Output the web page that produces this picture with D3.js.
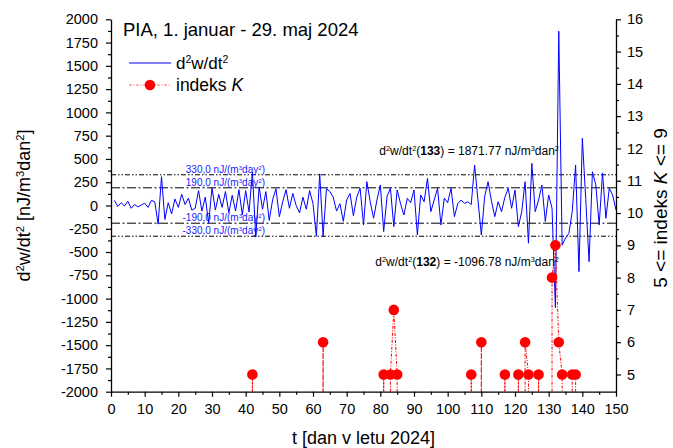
<!DOCTYPE html>
<html>
<head>
<meta charset="utf-8">
<script src="https://cdn.jsdelivr.net/npm/d3@7"></script>
<style>
  body { margin: 0; background: #fff; }
  svg { display: block; font-family: Arial, "Liberation Sans", sans-serif; }
</style>
</head>
<body>
<svg id="chart" width="673" height="448"></svg>
<script>
// d2w/dt2 po dnevih (t = 1 .. 150), nJ/(m^3 dan^2)
const dni = d3.range(1, 151);
const d2w = [
  55, -10, 30, -5, 45, -30, 10, -15, 5, 25,
  -20, 55, 40, -200, 310, -150, 30, -90, 70, -20,
  120, 10, 80, -50, -30, 160, -60, 90, -190, 190,
  -50, 120, -20, 150, -80, 110, -60, 170, -100, 160,
  -70, 360, -340, 200, -40, 150, -160, 60, 180, -120,
  40, 170, -30, 130, 0, -80, 90, -40, 160, 20,
  -330, 340, -330, 180, 150, 90, -60, 20, -170, 60,
  130, -110, 90, 185, -210, 256, 40, -137, 60, 220,
  -280, 100, 185, -227, 166, 20, -102, 77, 30, 166,
  -317, 113, 40, 292, -66, 60, 185, -209, 80, 30,
  185, -120, 20, 59, 24, 40, 10, 435, 60, -317,
  100, 256, 50, -120, 40, -66, 90, 185, -30, 166,
  -227, -66, 256, -405, 453, -66, 60, 220, -172, 113,
  -30, -1096.78, 1871.77, -425, -350, -300, -66, 435, -710, 722,
  77, -603, 363, 220, -209, 350, -137, 185, 113, -48
];

// dnevi z indeksom K >= 5
const kDni = [42, 63, 81, 83, 84, 85, 107, 110, 117, 121, 123, 124, 127, 131, 132, 133, 134, 137, 138];
const kVrednosti = [5, 6, 5, 5, 7, 5, 5, 6, 5, 5, 6, 5, 5, 8, 9, 6, 5, 5, 5];

// mejne vrednosti
const meje = [330, 190, -190, -330];
const mejeOznake = ["330,0", "190,0", "-190,0", "-330,0"];

const xTicks = d3.range(0, 151, 10);
const yTicks = d3.range(-2000, 2001, 250);
const kTicks = d3.range(5, 17, 1);

const svg = d3.select("#chart");
const L = 111, R = 616, T = 19.3, B = 391.7;

const x = d3.scaleLinear().domain([0, 150]).range([L, R]);
const y = d3.scaleLinear().domain([-2000, 2000]).range([B, T]);
const yK = d3.scaleLinear().domain([4.467, 16]).range([B, T]);

// superskript pomocnik
function besedilo(sel, deli) {
  deli.forEach(d => {
    const t = sel.append("tspan").text(d.t);
    if (d.sup) t.attr("baseline-shift", "super").style("font-size", "0.62em");
    if (d.b) t.style("font-weight", "bold");
    if (d.i) t.style("font-style", "italic");
  });
  return sel;
}

// mejne crte
const vzorci = { 330: "5,2,1.5,2,1.5,2", 190: "9,2.5,2,2.5" };
meje.forEach((m, i) => {
  svg.append("line")
    .attr("x1", L).attr("x2", R)
    .attr("y1", y(m)).attr("y2", y(m))
    .attr("stroke", "#000").attr("stroke-width", 1)
    .attr("stroke-dasharray", vzorci[Math.abs(m)]);
  besedilo(svg.append("text")
    .attr("x", 265).attr("y", y(m) - 2)
    .attr("text-anchor", "end")
    .style("font-size", "10px").style("fill", "#2222ff"),
    [{ t: mejeOznake[i] + " nJ/(m" }, { t: "3", sup: 1 }, { t: "day" }, { t: "2", sup: 1 }, { t: ")" }]);
});

// d2w/dt2 crta
const crta = d3.line().x((d, i) => x(dni[i])).y(d => y(d));
svg.append("path")
  .datum(d2w)
  .attr("d", crta)
  .attr("fill", "none")
  .attr("stroke", "#0000ff")
  .attr("stroke-width", 1);

// indeks K: zaporedni dnevi povezani, konci spusceni do osi
const nizi = [];
kDni.forEach((d, i) => {
  const zadnji = nizi[nizi.length - 1];
  if (zadnji && d - zadnji[zadnji.length - 1][0] === 1) zadnji.push([d, kVrednosti[i]]);
  else nizi.push([[d, kVrednosti[i]]]);
});
const kCrta = d3.line().x(d => x(d[0])).y(d => yK(d[1]));
const dno = yK.domain()[0];
nizi.forEach(n => {
  const pot = [[n[0][0], dno], ...n, [n[n.length - 1][0], dno]];
  svg.append("path")
    .datum(pot)
    .attr("d", kCrta)
    .attr("fill", "none")
    .attr("stroke", "#ff0000")
    .attr("stroke-width", 1)
    .attr("stroke-dasharray", "3,1.5,1,1.5");
});
svg.selectAll("circle.k")
  .data(kDni)
  .join("circle")
  .attr("class", "k")
  .attr("cx", d => x(d))
  .attr("cy", (d, i) => yK(kVrednosti[i]))
  .attr("r", 5.3)
  .attr("fill", "#ff0000");

// osi
const fmt = d => String(d);
function slogOsi(g) {
  g.selectAll("path.domain").attr("stroke", "#000").attr("stroke-width", 1.3);
  g.selectAll(".tick line").attr("stroke", "#000").attr("stroke-width", 1.2);
  g.selectAll(".tick text").style("font-size", "14.5px").attr("fill", "#000");
  g.style("font-family", null);
}

svg.append("g").attr("transform", `translate(0,${B})`)
  .call(d3.axisBottom(x).tickValues(d3.range(5, 150, 10)).tickSize(3).tickFormat(""))
  .call(g => g.select(".domain").remove())
  .call(slogOsi);
svg.append("g").attr("transform", `translate(0,${B})`)
  .call(d3.axisBottom(x).tickValues(xTicks).tickFormat(fmt).tickSize(5).tickSizeOuter(0).tickPadding(7))
  .call(slogOsi);

svg.append("g").attr("transform", `translate(${L},0)`)
  .call(d3.axisLeft(y).tickValues(d3.range(-1875, 2000, 250)).tickSize(3).tickFormat(""))
  .call(g => g.select(".domain").remove())
  .call(slogOsi);
svg.append("g").attr("transform", `translate(${L},0)`)
  .call(d3.axisLeft(y).tickValues(yTicks).tickFormat(fmt).tickSize(5).tickSizeOuter(0).tickPadding(8))
  .call(slogOsi);

svg.append("g").attr("transform", `translate(${R},0)`)
  .call(d3.axisRight(yK).tickValues(d3.range(5.5, 16, 1)).tickSize(3).tickFormat(""))
  .call(g => g.select(".domain").remove())
  .call(slogOsi);
svg.append("g").attr("transform", `translate(${R},0)`)
  .call(d3.axisRight(yK).tickValues(kTicks).tickFormat(fmt).tickSize(5).tickSizeOuter(0).tickPadding(6))
  .call(slogOsi);

// naslovi osi
svg.append("text")
  .attr("x", (L + R) / 2).attr("y", 444)
  .attr("text-anchor", "middle")
  .style("font-size", "18px")
  .text("t [dan v letu 2024]");

besedilo(svg.append("text")
  .attr("transform", `translate(30,${(T + B) / 2}) rotate(-90)`)
  .attr("text-anchor", "middle")
  .style("font-size", "18px"),
  [{ t: "d" }, { t: "2", sup: 1 }, { t: "w/dt" }, { t: "2", sup: 1 }, { t: " [nJ/m" }, { t: "3", sup: 1 }, { t: "dan" }, { t: "2", sup: 1 }, { t: "]" }]);

besedilo(svg.append("text")
  .attr("transform", `translate(667,208) rotate(-90)`)
  .attr("text-anchor", "middle")
  .style("font-size", "19px"),
  [{ t: "5 <= indeks " }, { t: "K", i: 1 }, { t: " <= 9" }]);

// naslov
svg.append("text")
  .attr("x", 123).attr("y", 36)
  .style("font-size", "18.5px")
  .text("PIA, 1. januar - 29. maj 2024");

// legenda
svg.append("line")
  .attr("x1", 129).attr("x2", 171).attr("y1", 63).attr("y2", 63)
  .attr("stroke", "#0000ff").attr("stroke-width", 1);
besedilo(svg.append("text").attr("x", 176).attr("y", 69).style("font-size", "17px"),
  [{ t: "d" }, { t: "2", sup: 1 }, { t: "w/dt" }, { t: "2", sup: 1 }]);
svg.append("line")
  .attr("x1", 129).attr("x2", 171).attr("y1", 85).attr("y2", 85)
  .attr("stroke", "#ff0000").attr("stroke-width", 1)
  .attr("stroke-opacity", 0.6)
  .attr("stroke-dasharray", "3,1.5,1,1.5");
svg.append("circle").attr("cx", 150).attr("cy", 85).attr("r", 5.3).attr("fill", "#ff0000");
besedilo(svg.append("text").attr("x", 176).attr("y", 91).style("font-size", "17.5px"),
  [{ t: "indeks " }, { t: "K", i: 1 }]);

// opombe pri ekstremih
const i133 = dni.indexOf(133), i132 = dni.indexOf(132);
besedilo(svg.append("text")
  .attr("x", 559).attr("y", 155)
  .attr("text-anchor", "end")
  .style("font-size", "12px"),
  [{ t: "d" }, { t: "2", sup: 1 }, { t: "w/dt" }, { t: "2", sup: 1 }, { t: "(" }, { t: "133", b: 1 },
   { t: ") = " + d2w[i133].toFixed(2) + " nJ/m" }, { t: "3", sup: 1 }, { t: "dan" }, { t: "2", sup: 1 }]);
besedilo(svg.append("text")
  .attr("x", 559).attr("y", 266)
  .attr("text-anchor", "end")
  .style("font-size", "12px"),
  [{ t: "d" }, { t: "2", sup: 1 }, { t: "w/dt" }, { t: "2", sup: 1 }, { t: "(" }, { t: "132", b: 1 },
   { t: ") = " + d2w[i132].toFixed(2) + " nJ/m" }, { t: "3", sup: 1 }, { t: "dan" }, { t: "2", sup: 1 }]);
</script>
</body>
</html>
